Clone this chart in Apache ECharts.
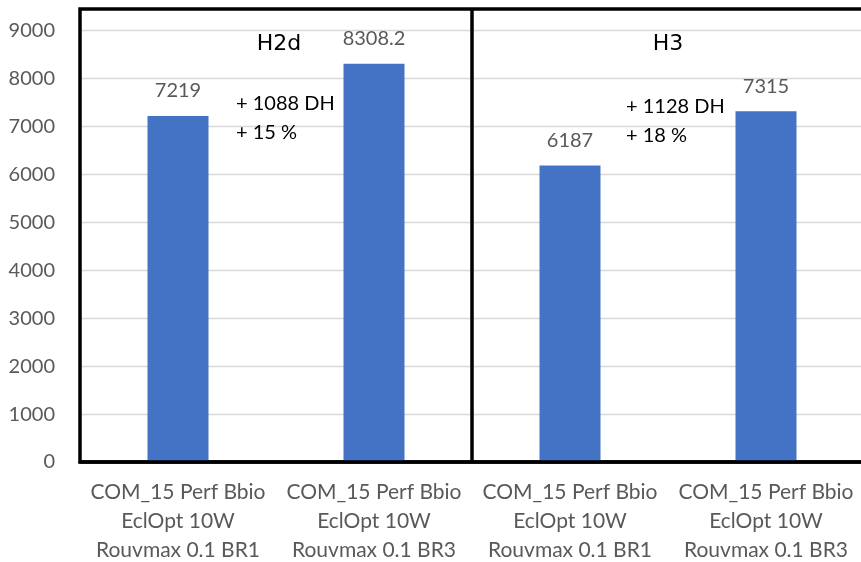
<!DOCTYPE html>
<html>
<head>
<meta charset="utf-8">
<script src="https://cdn.jsdelivr.net/npm/echarts@6/dist/echarts.min.js"></script>
<style>
  html, body { margin: 0; padding: 0; background: #fff; }
  #chart { width: 861px; height: 562px; }
</style>
</head>
<body>
<div id="chart"></div>
<script>
// Scenario labels (one per bar)
const categories = [
  'COM_15 Perf Bbio\nEclOpt 10W\nRouvmax 0.1 BR1',
  'COM_15 Perf Bbio\nEclOpt 10W\nRouvmax 0.1 BR3',
  'COM_15 Perf Bbio\nEclOpt 10W\nRouvmax 0.1 BR1',
  'COM_15 Perf Bbio\nEclOpt 10W\nRouvmax 0.1 BR3'
];
// Degree-hours per scenario
const values = [7219, 8308.2, 6187, 7315];
// Value axis ticks
const yMin = 0;
const yTickStep = 1000;
const yTop = 9450;

const FONT = 'Lato';
const chart = echarts.init(document.getElementById('chart'));

chart.setOption({
  animation: false,
  textStyle: { fontFamily: FONT },
  grid: {
    left: 80, top: 9, width: 784, bottom: 100,
    outerBoundsMode: 'none',
    containLabel: false
  },
  xAxis: {
    type: 'category',
    data: categories,
    axisLine: { show: true, lineStyle: { color: '#000', width: 3.5 } },
    axisTick: { show: false },
    axisLabel: {
      color: '#595959', fontSize: 21, lineHeight: 29, margin: 16,
      fontFamily: FONT, interval: 0
    }
  },
  yAxis: {
    type: 'value',
    min: yMin, max: yTop, interval: yTickStep,
    axisLine: { show: false },
    axisTick: { show: false },
    splitLine: { lineStyle: { color: '#d9d9d9', width: 1.3 } },
    axisLabel: {
      color: '#595959', fontSize: 20, margin: 25, fontFamily: FONT,
      showMaxLabel: false,
      formatter: v => String(v)
    }
  },
  series: [{
    type: 'bar',
    data: values,
    barWidth: 61,
    itemStyle: { color: '#4472c4' },
    label: {
      show: true, position: 'top', distance: 15,
      color: '#595959', fontSize: 20, fontFamily: FONT
    }
  }]
});

// Two framed panels (H2d | H3) drawn over the plot area, plus group annotations
const c0 = chart.convertToPixel({ xAxisIndex: 0 }, 0);
const c1 = chart.convertToPixel({ xAxisIndex: 0 }, 1);
const c2 = chart.convertToPixel({ xAxisIndex: 0 }, 2);
const c3 = chart.convertToPixel({ xAxisIndex: 0 }, 3);
const half = (c1 - c0) / 2;
const leftX = c0 - half;
const divX = (c1 + c2) / 2;
const rightX = c3 + half;
const yTopPx = chart.convertToPixel({ yAxisIndex: 0 }, yTop);
const yZeroPx = chart.convertToPixel({ yAxisIndex: 0 }, 0);

const frame = { stroke: '#000', lineWidth: 3.5, fill: null };

const txt = (x, y, s, font, align) => ({
  type: 'text', x: x, y: y,
  style: { text: s, fill: '#000', font: font, textAlign: align || 'left', textVerticalAlign: 'middle' }
});
const noteFont = '20px ' + FONT;
const headFont = '22px "DejaVu Sans"';

chart.setOption({
  graphic: [
    { type: 'rect', z: 10, shape: { x: leftX, y: yTopPx, width: rightX - leftX, height: yZeroPx - yTopPx },
      style: frame },
    { type: 'line', z: 10, shape: { x1: divX, y1: yTopPx, x2: divX, y2: yZeroPx },
      style: frame },
    txt(279, 44, 'H2d', headFont, 'center'),
    txt(236, 104, '+ 1088 DH', noteFont),
    txt(236, 133, '+ 15 %', noteFont),
    txt(668, 44, 'H3', headFont, 'center'),
    txt(626, 107, '+ 1128 DH', noteFont),
    txt(626, 136, '+ 18 %', noteFont)
  ]
});
</script>
</body>
</html>
